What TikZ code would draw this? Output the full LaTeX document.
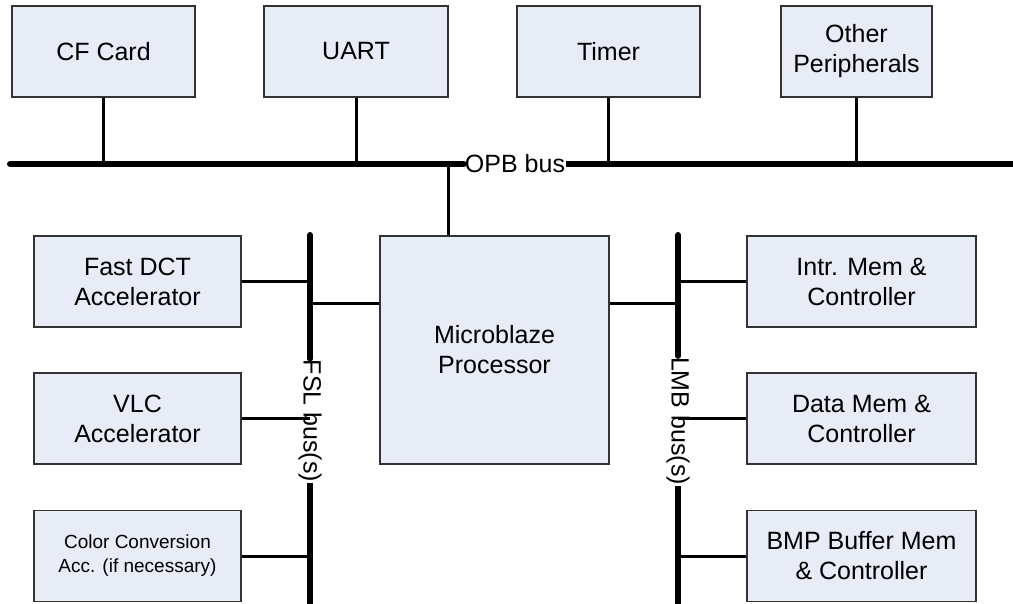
\documentclass[tikz,border=0pt]{standalone}
\usepackage{fontspec}
\setmainfont{Liberation Sans}
\definecolor{boxfill}{HTML}{E7ECF6}
\definecolor{boxline}{HTML}{333333}
\begin{document}
\begin{tikzpicture}[x=1pt, y=1pt,
  blk/.style={draw=boxline, fill=boxfill, line width=1.1pt, align=center,
    inner sep=0pt, font=\fontsize{25}{30}\selectfont},
  bus/.style={line width=6pt, line cap=round},
  stub/.style={line width=3pt},
  buslbl/.style={inner sep=1pt, font=\fontsize{25}{30}\selectfont}]
\useasboundingbox (0,0) rectangle (1013,-604);
% peripherals on the OPB bus
\node[blk, minimum width=183, minimum height=91] (cf)    at (103.5, -51.5) {CF Card};
\node[blk, minimum width=184, minimum height=91] (uart)  at (356, -51.5)   {UART};
\node[blk, minimum width=183, minimum height=91] (timer) at (608.5, -51.5) {Timer};
\node[blk, minimum width=151, minimum height=91] (other) at (856.5, -51.5) {Other\\Peripherals};
\node[buslbl] (opb) at (515, -164) {OPB bus};
\coordinate (opbL) at (10, -164);
\coordinate (opbR) at (1020, -164);
\draw[bus] (opbL) -- (opb.west);
\draw[bus, line cap=butt] (opb.east) -- (opbR);
\draw[stub] (cf) -- (cf |- opb);
\draw[stub] (uart) -- (uart |- opb);
\draw[stub] (timer) -- (timer |- opb);
\draw[stub] (other) -- (other |- opb);
% processor
\node[blk, minimum width=229, minimum height=228] (proc) at (494.5, -350) {Microblaze\\Processor};
\coordinate (opbtap) at (448, -164);
\draw[stub] (opbtap) -- (opbtap |- proc.north);
% FSL side
\node[blk, minimum width=207, minimum height=91] (dct)   at (137.5, -281.5) {Fast DCT\\Accelerator};
\node[blk, minimum width=207, minimum height=91] (vlc)   at (137.5, -418.5) {VLC\\Accelerator};
\node[blk, minimum width=207, minimum height=91, font=\fontsize{19}{24}\selectfont] (ccc) at (137.5, -556) {Color Conversion\\Acc. (if necessary)};
\node[buslbl, rotate=-90] (fsl) at (310, -421) {FSL bus(s)};
\coordinate (fslT) at (310, -235);
\coordinate (fslB) at (310, -610);
\draw[bus] (fslT) -- (fsl.west);
\draw[bus, line cap=butt] (fsl.east) -- (fslB);
\draw[stub] (dct.east) -- (dct.east -| fslT);
\draw[stub] (vlc.east) -- (vlc.east -| fslT);
\draw[stub] (ccc.east) -- (ccc.east -| fslT);
\draw[stub] ([yshift=46pt]proc.west) -- ([yshift=46pt]proc.west -| fslT);
% LMB side
\node[blk, minimum width=229, minimum height=91] (imem) at (861.5, -281.5) {Intr. Mem \&\\Controller};
\node[blk, minimum width=229, minimum height=91] (dmem) at (861.5, -418.5) {Data Mem \&\\Controller};
\node[blk, minimum width=229, minimum height=91] (bmem) at (861.5, -556)   {BMP Buffer Mem\\\& Controller};
\node[buslbl, rotate=-90] (lmb) at (678, -421) {LMB bus(s)};
\coordinate (lmbT) at (678, -235);
\coordinate (lmbB) at (678, -610);
\draw[bus] (lmbT) -- (lmb.west);
\draw[bus, line cap=butt] (lmb.east) -- (lmbB);
\draw[stub] (imem.west) -- (imem.west -| lmbT);
\draw[stub] (dmem.west) -- (dmem.west -| lmbT);
\draw[stub] (bmem.west) -- (bmem.west -| lmbT);
\draw[stub] ([yshift=46pt]proc.east) -- ([yshift=46pt]proc.east -| lmbT);
\end{tikzpicture}
\end{document}
